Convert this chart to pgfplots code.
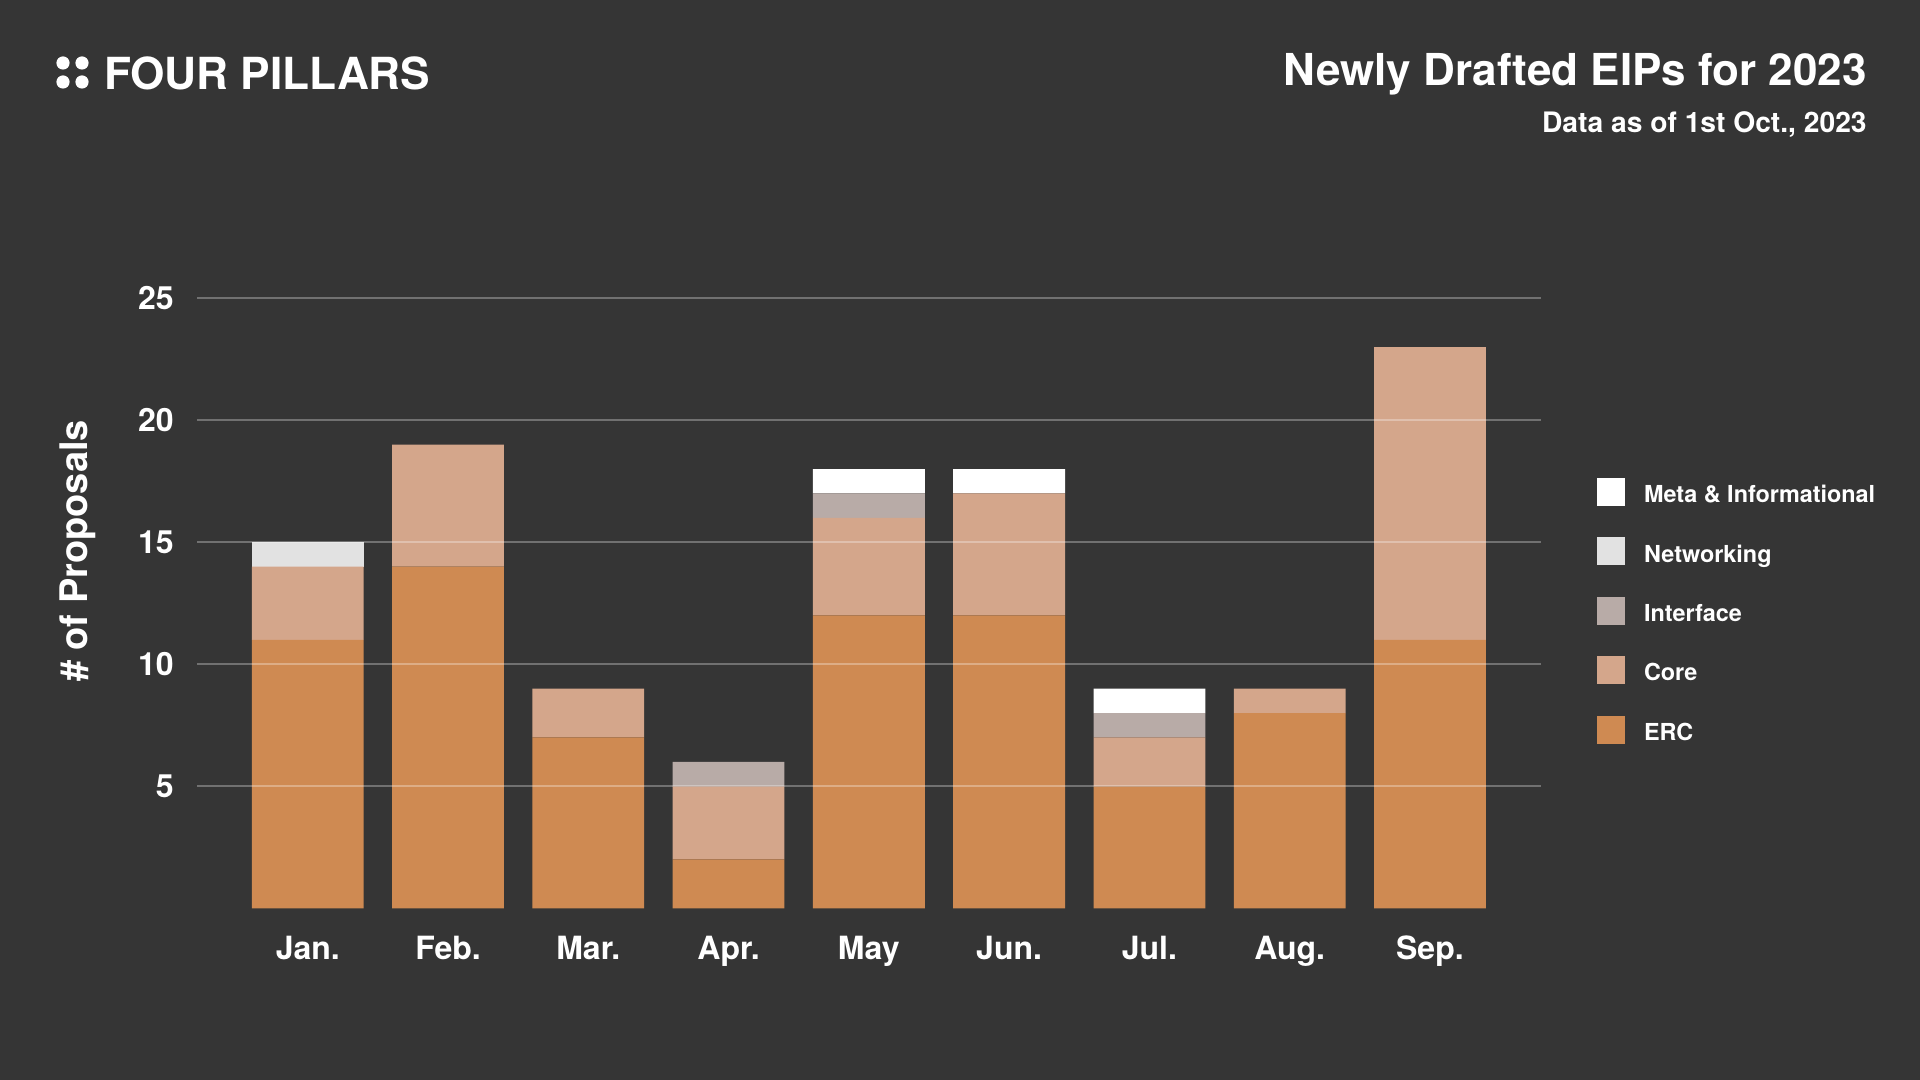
\documentclass[border=0pt]{standalone}
\usepackage{pgfplots}
\pgfplotsset{compat=1.18}
\usepackage{fontspec}
\setmainfont{TeX Gyre Heros}

\definecolor{bg}{RGB}{53,53,53}
\definecolor{erc}{RGB}{207,138,82}
\definecolor{core}{RGB}{212,166,139}
\definecolor{iface}{RGB}{184,171,167}
\definecolor{netw}{RGB}{226,226,226}
\definecolor{meta}{RGB}{255,255,255}

\begin{document}
\begin{tikzpicture}
  \fill[bg] (0,0) rectangle (960pt,540pt);
  \path[use as bounding box] (0,0) rectangle (960pt,540pt);

  % logo
  \foreach \cx/\cy in {31.5/508.5, 41/508.5, 31.5/499, 41/499}
    \fill[white] (\cx pt,\cy pt) circle (3.3pt);
  \node[anchor=base west, inner sep=0pt, text=white, font=\fontsize{22.1pt}{24pt}\selectfont\bfseries]
    at (51.8pt,495pt) {FOUR PILLARS};

  % titles
  \node[anchor=base east, inner sep=0pt, text=white, font=\fontsize{22pt}{24pt}\selectfont\bfseries]
    at (933.5pt,497pt) {Newly Drafted EIPs for 2023};
  \node[anchor=base east, inner sep=0pt, text=white, font=\fontsize{14.1pt}{16pt}\selectfont\bfseries]
    at (933.5pt,473.5pt) {Data as of 1st Oct., 2023};

  % y label
  \node[rotate=90, anchor=base, inner sep=0pt, text=white, font=\fontsize{19pt}{22pt}\selectfont\bfseries]
    at (43.5pt,264.5pt) {\# of Proposals};

  \begin{axis}[
    at={(98.5pt,85.85pt)}, anchor=south west,
    scale only axis,
    width=671.85pt, height=305pt,
    ybar stacked,
    bar width=0.797,
    xmin=-0.79, xmax=8.79,
    ymin=0, ymax=25,
    enlargelimits=false,
    axis on top,
    axis line style={draw=none},
    major tick length=0pt,
    xtick={0,...,8},
    xticklabels={Jan.,Feb.,Mar.,Apr.,May,Jun.,Jul.,Aug.,Sep.},
    ytick={5,10,15,20,25},
    ymajorgrids=true,
    grid style={white, opacity=0.3, line width=1pt},
    /pgf/number format/assume math mode=true,
    ticklabel style={text=white, font=\fontsize{16pt}{18pt}\selectfont\bfseries},
    yticklabel style={anchor=east, inner sep=0pt, xshift=-11.5pt},
    xticklabel style={anchor=base, inner sep=0pt, yshift=-25.5pt},
    reverse legend,
    legend style={
      at={(1.0419,0.7054)}, anchor=north west,
      draw=none, fill=none, inner sep=0pt, outer sep=0pt,
      text=white, font=\fontsize{11.7pt}{13pt}\selectfont\bfseries,
      nodes={inner sep=0pt},
      column sep=9.5pt, row sep=15.7pt,
    },
    legend cell align=left,
    legend image code/.code={\fill[#1] (0pt,-5.2pt) rectangle (14pt,8.8pt);},
  ]
    % ERC
    \addplot[fill=erc, draw=none] coordinates {
      (0,11)(1,14)(2,7)(3,2)(4,12)(5,12)(6,5)(7,8)(8,11)};
    % Core
    \addplot[fill=core, draw=none] coordinates {
      (0,3)(1,5)(2,2)(3,3)(4,4)(5,5)(6,2)(7,1)(8,12)};
    % Interface
    \addplot[fill=iface, draw=none] coordinates {
      (0,0)(1,0)(2,0)(3,1)(4,1)(5,0)(6,1)(7,0)(8,0)};
    % Networking
    \addplot[fill=netw, draw=none] coordinates {
      (0,1)(1,0)(2,0)(3,0)(4,0)(5,0)(6,0)(7,0)(8,0)};
    % Meta & Informational
    \addplot[fill=meta, draw=none] coordinates {
      (0,0)(1,0)(2,0)(3,0)(4,1)(5,1)(6,1)(7,0)(8,0)};
    \legend{ERC,Core,Interface,Networking,Meta \& Informational}
  \end{axis}
\end{tikzpicture}
\end{document}
